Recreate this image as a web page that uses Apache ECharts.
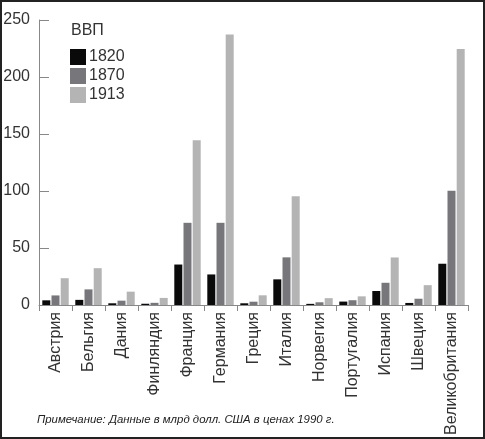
<!DOCTYPE html>
<html>
<head>
<meta charset="utf-8">
<script src="https://cdn.jsdelivr.net/npm/echarts@6/dist/echarts.min.js"></script>
<style>
    html, body { margin: 0; padding: 0; background: #fff; }
    #chart { width: 485px; height: 439px; }
</style>
</head>
<body>
<div id="chart"></div>
<script>
var countries = ['Австрия', 'Бельгия', 'Дания', 'Финляндия', 'Франция', 'Германия', 'Греция',
    'Италия', 'Норвегия', 'Португалия', 'Испания', 'Швеция', 'Великобритания'];
var gdp1820 = [4.1, 4.5, 1.5, 1.1, 35.5, 26.8, 1.5, 22.5, 1.0, 3.0, 12.3, 1.8, 36.2];
var gdp1870 = [8.4, 13.7, 3.8, 1.9, 72.1, 72.1, 2.9, 41.8, 2.4, 4.2, 19.5, 5.5, 100.2];
var gdp1913 = [23.5, 32.3, 11.7, 6.2, 144.5, 237.3, 8.5, 95.5, 6.0, 7.6, 41.7, 17.4, 224.6];
var yTicks = [0, 50, 100, 150, 200, 250];

var font = '"Liberation Sans", Arial, sans-serif';

var chart = echarts.init(document.getElementById('chart'));

function barSeries(name, data, color) {
    return {
        name: name,
        type: 'bar',
        data: data,
        barWidth: 8,
        barGap: '15%',
        itemStyle: { color: color }
    };
}

chart.setOption({
    animation: false,
    textStyle: { fontFamily: font },
    title: {
        text: 'ВВП',
        left: 66,
        top: 18,
        textStyle: { fontSize: 16, fontWeight: 'normal', color: '#333', fontFamily: font }
    },
    legend: {
        orient: 'vertical',
        left: 65,
        top: 44,
        itemWidth: 16,
        itemHeight: 16,
        itemGap: 3,
        icon: 'rect',
        textStyle: { fontSize: 16, color: '#333', padding: [0, 0, 0, -2] },
        data: ['1820', '1870', '1913']
    },
    grid: {
        left: 39,
        right: 17,
        top: 20,
        bottom: 134
    },
    xAxis: {
        type: 'category',
        data: countries,
        axisLine: { lineStyle: { color: '#888' } },
        axisTick: { show: true, length: 6, lineStyle: { color: '#888' } },
        axisLabel: {
            rotate: 90,
            margin: 7,
            fontSize: 16,
            color: '#333',
            interval: 0
        }
    },
    yAxis: {
        type: 'value',
        min: yTicks[0],
        max: yTicks[yTicks.length - 1],
        interval: 50,
        axisLine: { show: true, lineStyle: { color: '#888' } },
        axisTick: { show: true, inside: true, length: 10, lineStyle: { color: '#888' } },
        splitLine: { show: false },
        axisLabel: { fontSize: 16, color: '#333', margin: 9 }
    },
    graphic: [
        {
            type: 'rect',
            shape: { x: 1, y: 1, width: 483, height: 437 },
            style: { fill: 'none', stroke: '#222', lineWidth: 2 },
            silent: true
        },
        {
            type: 'text',
            left: 37,
            top: 414,
            style: {
                text: 'Примечание: Данные в млрд долл. США в ценах 1990 г.',
                font: 'italic 11.4px ' + font,
                fill: '#222'
            }
        }
    ],
    series: [
        barSeries('1820', gdp1820, '#0a0a0a'),
        barSeries('1870', gdp1870, '#77777b'),
        barSeries('1913', gdp1913, '#b4b4b4')
    ]
});
</script>
</body>
</html>
